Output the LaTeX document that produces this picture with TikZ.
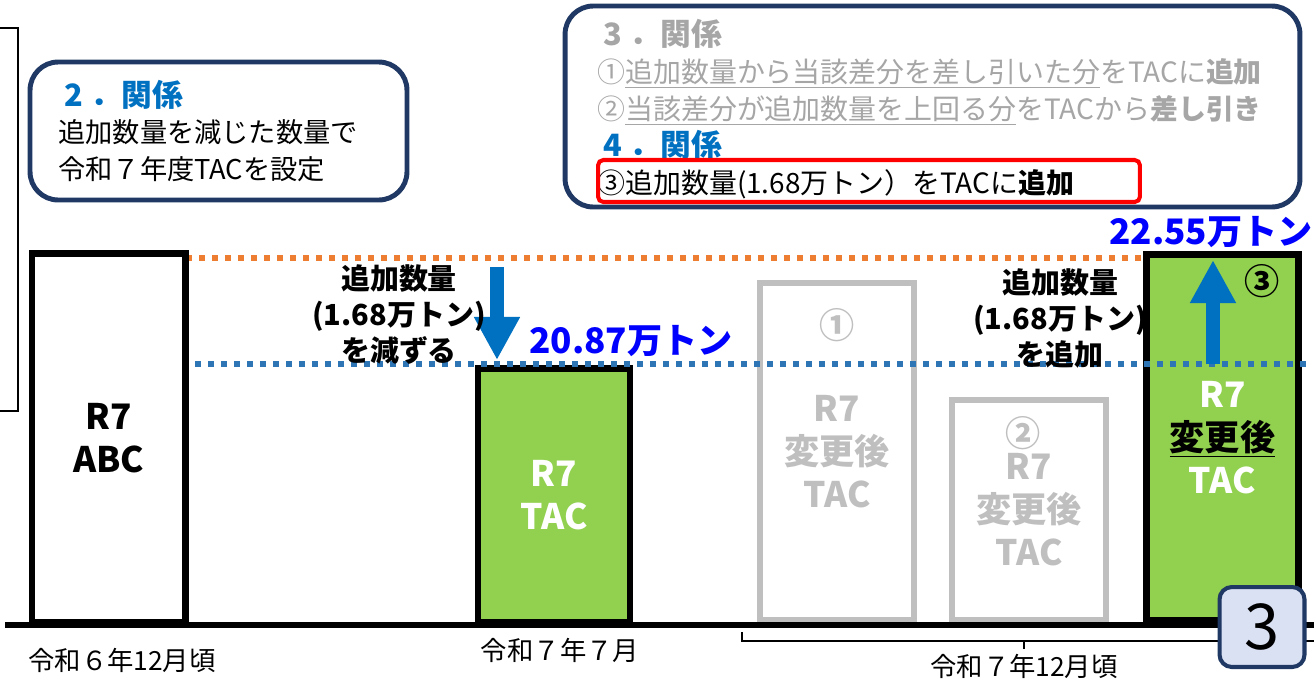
\documentclass[tikz,border=0pt]{standalone}
\usepackage{fontspec}
\setmainfont{Noto Sans CJK JP}
\usetikzlibrary{arrows.meta}

\definecolor{boxnavy}{HTML}{1F3864}
\definecolor{headblue}{HTML}{0070C0}
\definecolor{valblue}{HTML}{0000FF}
\definecolor{lvorange}{HTML}{ED7D31}
\definecolor{lvblue}{HTML}{2E75B6}
\definecolor{tacgreen}{HTML}{92D050}
\definecolor{ghostgray}{HTML}{BFBFBF}
\definecolor{notegray}{HTML}{A6A6A6}
\definecolor{badgefill}{HTML}{DAE1F3}

\begin{document}
\begin{tikzpicture}[x=0.02cm,y=-0.02cm]
    \tikzset{
        colbar/.style={draw=black, line width=3.6pt, fill=white, align=center,
            inner sep=0pt, font=\fontsize{20}{24.5}\selectfont\bfseries},
        tacbar/.style={colbar, fill=tacgreen, text=white},
        ghostbar/.style={colbar, draw=ghostgray, line width=3.2pt, text=ghostgray},
        infobox/.style={draw=boxnavy, line width=2.8pt, rounded corners=16pt, fill=white},
        infotext/.style={anchor=west, align=left, inner sep=0pt},
        lvline/.style={line width=3pt, dash pattern=on 3.4pt off 4pt},
        qty/.style={align=center, font=\fontsize{16.5}{20.5}\selectfont\bfseries},
        tons/.style={text=valblue, font=\fontsize{20}{24}\selectfont\bfseries},
        circnum/.style={font=\fontsize{20}{22}\selectfont\bfseries},
        datelbl/.style={font=\fontsize{15}{18}\selectfont},
        bigarrow/.style={draw=headblue, line width=8pt,
            -{Triangle[width=24.5pt,length=24.5pt]}}
    }
    \useasboundingbox (0,0) rectangle (1314,684);

    % frame cut off at the left
    \coordinate (lb0) at (0,28);
    \coordinate (lb1) at (0,411);
    \draw[line width=0.9pt] (lb0) -- ++(18,0) |- (lb1);

    % relation boxes
    \node[infobox, minimum width=7.54cm, minimum height=2.76cm] (rel2) at (218.5,131) {};
    \node[infotext, font=\fontsize{15.5}{20.8}\selectfont] (rel2txt) at (58,131) {%
        {\fontsize{17.5}{20.8}\selectfont\bfseries\color{headblue}\hspace{0.2em}2\hspace{0.25em}．関係}\\
        追加数量を減じた数量で\\
        令和７年度TACを設定};
    \node[infobox, minimum width=14.7cm, minimum height=4.02cm] (rel34) at (932.5,106.5) {};
    \node[infotext, font=\fontsize{15.9}{21.1}\selectfont] (rel34txt) at (597,111) {%
        {\fontsize{17.5}{21.1}\selectfont\bfseries\color{notegray}\hspace{0.2em}3\hspace{0.25em}．関係}\\
        {\color{notegray}①\underline{追加数量から当該差分を差し引いた分}をTACに\textbf{追加}}\\
        {\color{notegray}②\underline{当該差分が追加数量を上回る分}をTACから\textbf{差し引き}}\\
        {\fontsize{17.5}{21.1}\selectfont\bfseries\color{headblue}\hspace{0.2em}4\hspace{0.25em}．関係}\\
        ③\underline{追加数量(1.68万トン）}をTACに\textbf{追加}};
    \node[draw=red, line width=2.3pt, rounded corners=3pt, minimum width=10.84cm,
        minimum height=0.84cm] (hl) at (869,181) {};

    % upper level
    \coordinate (hi0) at (186,258);
    \coordinate (hi1) at (1143,258);
    \draw[lvline, lvorange] (hi0) -- (hi1);

    % bars
    \node[colbar, minimum width=3.07cm, minimum height=7.37cm] (abc) at (108.75,437.75) {R7\\ABC};
    \node[tacbar, minimum width=3.04cm, minimum height=5.07cm] (tac) at (554,495.25) {R7\\TAC};
    \node[ghostbar, minimum width=3.08cm, minimum height=6.74cm] (alt1) at (837,451.5) {R7\\変更後\\TAC};
    \node[ghostbar, minimum width=3.08cm, minimum height=4.4cm] (alt2) at (1029,510) {R7\\変更後\\TAC};
    \node[tacbar, minimum width=3.04cm, minimum height=7.31cm] (newtac) at (1222.5,437.25)
        {R7\\\textcolor{black}{\underline{変更後}}\\TAC};

    \node[circnum, text=ghostgray] (c1) at (837,325) {①};
    \node[circnum, text=ghostgray] (c2) at (1023,433) {②};
    \node[circnum] (c3) at (1262,281) {③};

    % lower level
    \coordinate (lo0) at (195,364);
    \coordinate (lo1) at (1312,364);
    \draw[lvline, lvblue] (lo0) -- (lo1);

    % change arrows
    \coordinate (dn0) at (497,267);
    \coordinate (dn1) at (497,360);
    \draw[bigarrow] (dn0) -- (dn1);
    \coordinate (up0) at (1213,364);
    \coordinate (up1) at (1213,260);
    \draw[bigarrow] (up0) -- (up1);

    \node[qty] (cutlbl) at (399,315) {追加数量\\(1.68万トン)\\を減ずる};
    \node[qty] (addlbl) at (1060,318) {追加数量\\(1.68万トン)\\を追加};
    \node[tons] (v1) at (631,341) {20.87万トン};
    \node[tons] (v2) at (1211,232) {22.55万トン};

    % time axis
    \coordinate (ax0) at (5,625);
    \coordinate (ax1) at (1314,625);
    \draw[line width=3.4pt] (ax0) -- (ax1);

    \node[datelbl] (d1) at (122,660) {令和６年12月頃};
    \node[datelbl] (d2) at (560,650) {令和７年７月};
    \node[datelbl] (d3) at (1024,666) {令和７年12月頃};
    \coordinate (br0) at (742,632);
    \coordinate (br1) at (1314,641);
    \coordinate (brm) at (1024,641);
    \draw[line width=1.5pt] (br0) |- (br1);
    \draw[line width=1.5pt] (brm) -- ++(0,8);

    % page badge
    \node[draw=boxnavy, line width=2.3pt, fill=badgefill, rounded corners=7pt,
        minimum width=1.7cm, minimum height=1.6cm,
        font=\fontsize{36}{40}\selectfont] (pg) at (1262,627) {3};
\end{tikzpicture}
\end{document}
